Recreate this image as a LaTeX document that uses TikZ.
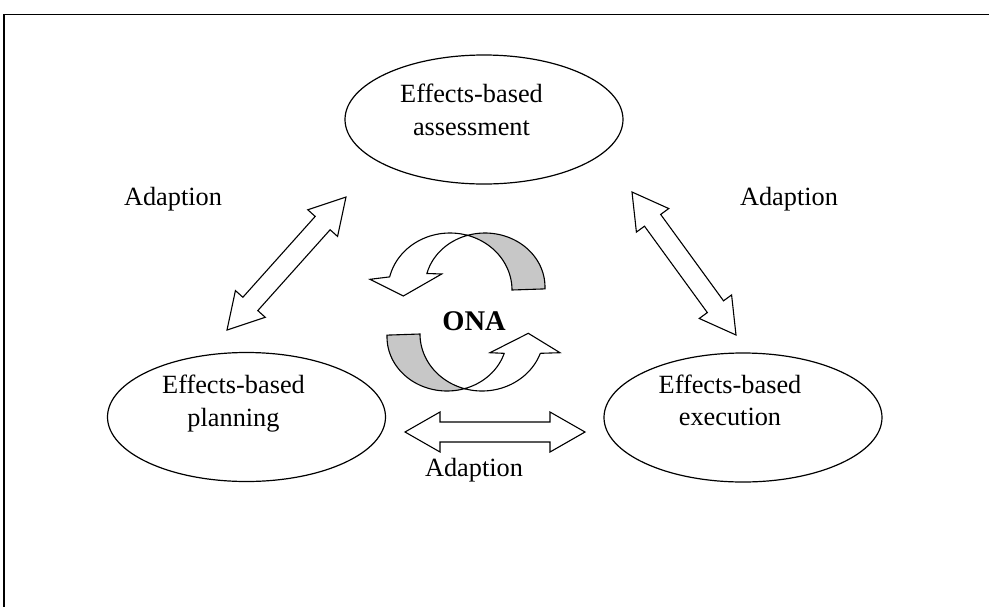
\documentclass[tikz,border=0pt]{standalone}
\usepackage{fontspec}
\setmainfont{Liberation Serif}
\usetikzlibrary{calc,shapes.geometric}

\tikzset{
  frame/.style={line width=1.6pt},
  bubble/.style={draw, line width=1.2pt, ellipse, inner sep=0pt,
                 minimum width=278pt, minimum height=129pt},
  lbl/.style={font=\fontsize{26.3}{30}\selectfont, inner sep=0pt, anchor=base},
  blockarrow/.style={draw, fill=white, line width=1.1pt, line join=miter},
  ribbonfront/.style={draw, fill=white, line width=1.1pt},
  ribbonback/.style={draw, fill=black!22, line width=1.1pt}
}

% double-headed block arrow between two named tips
\newcommand{\dblblock}[2]{%
  \coordinate (#1h) at ($(#1)!35pt!(#2)$);
  \coordinate (#2h) at ($(#2)!35pt!(#1)$);
  \draw[blockarrow] (#1)
    -- ($(#1h)!20pt!90:(#2)$) -- ($(#1h)!10pt!90:(#2)$)
    -- ($(#2h)!10pt!-90:(#1)$) -- ($(#2h)!20pt!-90:(#1)$)
    -- (#2)
    -- ($(#2h)!20pt!90:(#1)$) -- ($(#2h)!10pt!90:(#1)$)
    -- ($(#1h)!10pt!-90:(#2)$) -- ($(#1h)!20pt!-90:(#2)$)
    -- cycle;}

\begin{document}
\begin{tikzpicture}[x=1pt, y=-1pt]
\useasboundingbox (0,0) rectangle (989,606);

% page frame
\draw[frame] (4,640) -- (4,14.5) -- (1010,14.5);

% the three effects-based phases
\node[bubble] (A) at (484,119.5) {};
\node[bubble] (P) at (246.5,417) {};
\node[bubble] (E) at (743,417.5) {};

\node[lbl] (A1) at (471.5,102) {Effects-based};
\node[lbl] (A2) at (471.5,135) {assessment};
\node[lbl] (P1) at (233.5,393) {Effects-based};
\node[lbl] (P2) at (233.5,426.5) {planning};
\node[lbl] (E1) at (730,393) {Effects-based};
\node[lbl] (E2) at (730,425.5) {execution};

% adaption arrows
\coordinate (lu) at (346,197);
\coordinate (ld) at (227,330);
\coordinate (ru) at (632,192);
\coordinate (rd) at (736,335);
\coordinate (hl) at (405,432);
\coordinate (hr) at (585,432);
\dblblock{lu}{ld}
\dblblock{ru}{rd}
\dblblock{hl}{hr}

\node[lbl] (adl) at (173,205) {Adaption};
\node[lbl] (adr) at (789,205) {Adaption};
\node[lbl] (adb) at (474,476) {Adaption};

% ONA cycle: upper curved ribbon arrow
\draw[ribbonback]
  plot[domain=285.9:360, samples=40] ({450+62*cos(\x)},{290+57*sin(\x)})
  -- plot[domain=362:252.5, samples=40] ({485+60*cos(\x)},{287+54*sin(\x)})
  -- cycle;
\draw[ribbonfront]
  plot[domain=193.3:285.9, samples=40] ({450+62*cos(\x)},{290+57*sin(\x)})
  -- plot[domain=252.5:194.5, samples=40] ({485+60*cos(\x)},{287+54*sin(\x)})
  -- (441.7,274) -- (403.3,296) -- (370,279.3) -- cycle;

% ONA cycle: lower curved ribbon arrow
\draw[ribbonback]
  plot[domain=105.9:180, samples=40] ({482+62*cos(\x)},{334+57*sin(\x)})
  -- plot[domain=182:72.5, samples=40] ({447+60*cos(\x)},{337+54*sin(\x)})
  -- cycle;
\draw[ribbonfront]
  plot[domain=19.8:105.9, samples=40] ({482+62*cos(\x)},{334+57*sin(\x)})
  -- plot[domain=72.5:17.6, samples=40] ({447+60*cos(\x)},{337+54*sin(\x)})
  -- (490,352.7) -- (528.3,333.3) -- (560,352.7) -- cycle;

\node[lbl, font=\fontsize{28.5}{30}\selectfont\bfseries] (ona) at (474,330) {ONA};
\end{tikzpicture}
\end{document}
